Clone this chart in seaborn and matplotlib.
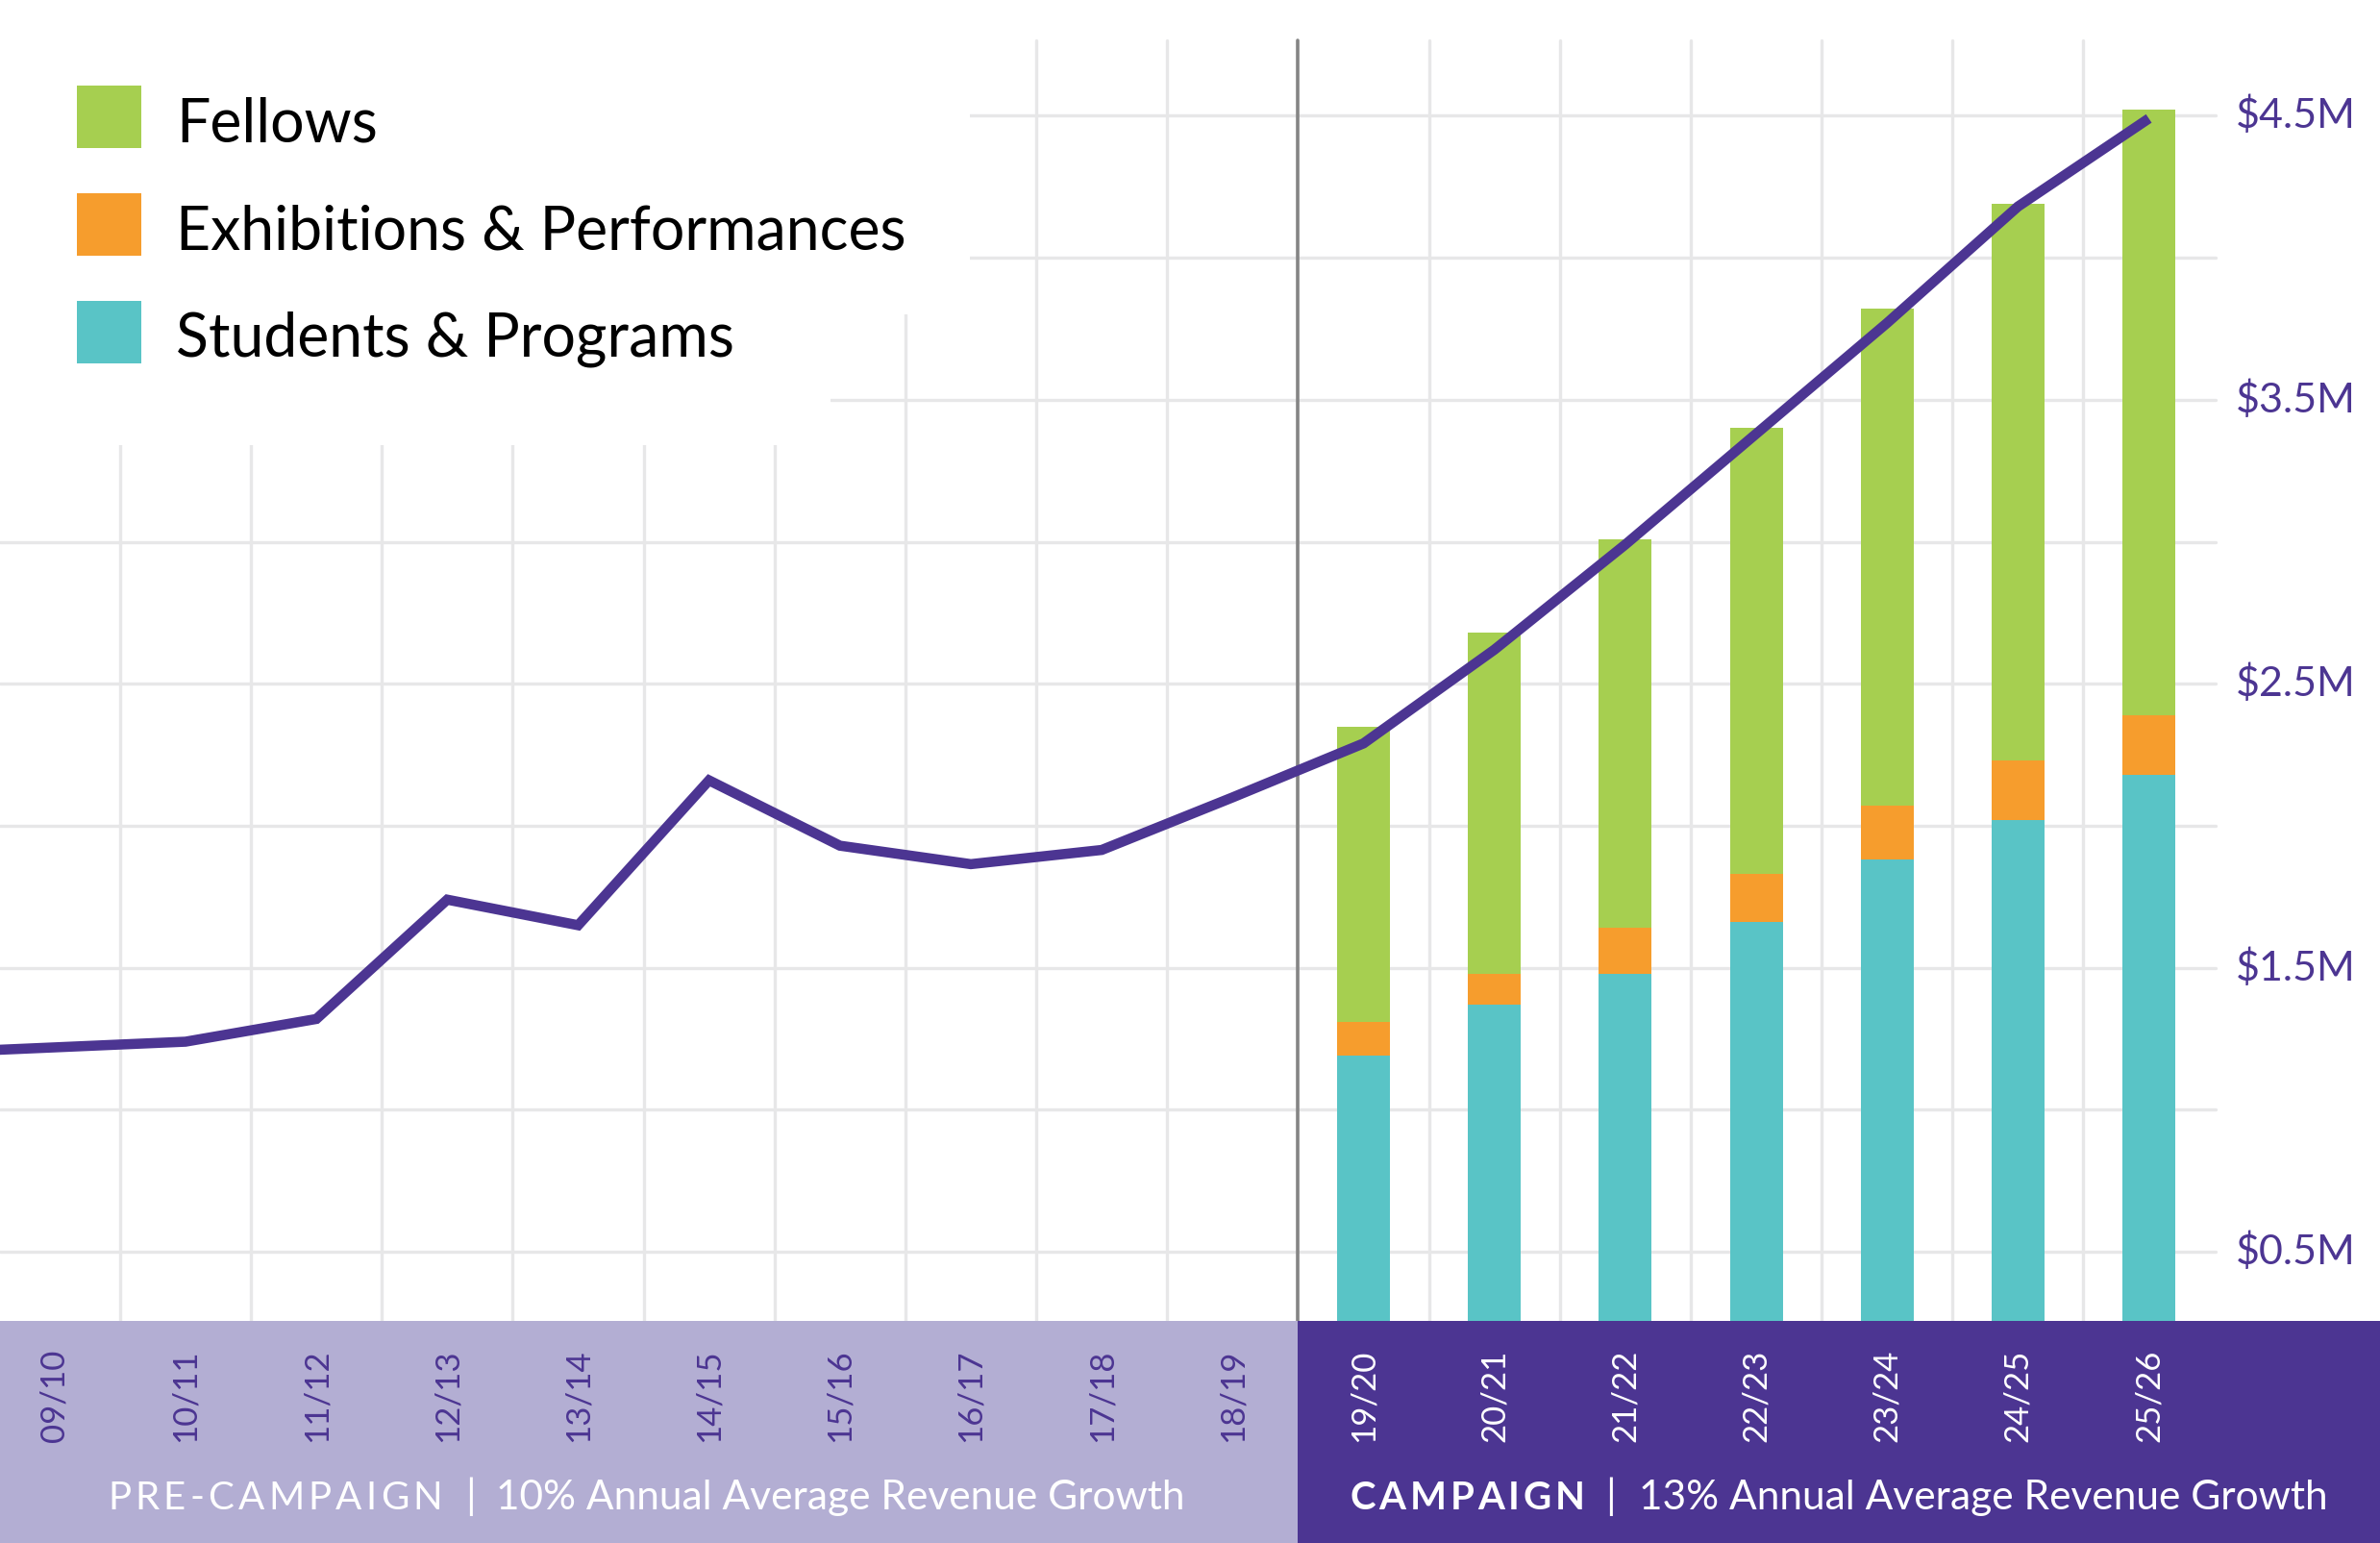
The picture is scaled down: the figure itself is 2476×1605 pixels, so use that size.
import numpy as np
import matplotlib
matplotlib.use('Agg')
import matplotlib.pyplot as plt
from matplotlib.patches import Rectangle
import seaborn as sns

sns.set_style('white')
plt.rcParams['font.family'] = ['Lato', 'DejaVu Sans']

# ── data ──────────────────────────────────────────────────────────────
years = ['09/10', '10/11', '11/12', '12/13', '13/14', '14/15', '15/16', '16/17',
         '17/18', '18/19', '19/20', '20/21', '21/22', '22/23', '23/24', '24/25', '25/26']

# total revenue line ($M); the line enters from an off-chart 08/09 point
line_years = ['08/09'] + years
line_vals = [1.20, 1.22, 1.24, 1.32, 1.74, 1.65, 2.16, 1.93, 1.865, 1.915,
             2.10, 2.29, 2.62, 2.99, 3.38, 3.77, 4.18, 4.49]

# stacked campaign bars ($M), 19/20 .. 25/26
students = [1.19, 1.37, 1.48, 1.66, 1.88, 2.02, 2.18]
exhibitions = [0.12, 0.11, 0.16, 0.17, 0.19, 0.21, 0.21]
fellows = [1.04, 1.20, 1.37, 1.57, 1.75, 1.96, 2.13]

y_ticks = [0.5, 1.5, 2.5, 3.5, 4.5]
y_labels = ['$0.5M', '$1.5M', '$2.5M', '$3.5M', '$4.5M']

legend_labels = ['Fellows', 'Exhibitions & Performances', 'Students & Programs']

GREEN, ORANGE, TEAL = '#a6cf50', '#f69d2d', '#59c4c6'
PURPLE, LILAC = '#4c3592', '#b3aed3'
GRID = '#e7e7e8'

# ── layout ────────────────────────────────────────────────────────────
W, H = 2476, 1606
BAND = 1375                      # px from top where the bottom band starts
XLIM = (-0.417, 17.766)
YLIM = (0.257, 4.9105)

fig = plt.figure(figsize=(W / 100, H / 100), dpi=100)
ax = fig.add_axes([0, (H - BAND) / H, 1, BAND / H])
bx = fig.add_axes([0, 0, 1, (H - BAND) / H])
renderer = fig.canvas.get_renderer()

pos = np.arange(len(years))
bar_pos = pos[10:]
base2 = np.add(students, exhibitions)
total = base2 + np.array(fellows)

# grid
for v in np.arange(0.5, 4.6, 0.5):
    ax.axhline(v, xmin=0, xmax=2305 / W, color=GRID, lw=2.4, zorder=0.5)
for x in np.arange(0.5, 16, 1.0):
    if x == 9.5:
        continue
    ax.axvline(x, ymin=0, ymax=1 - 43 / BAND, color=GRID, lw=2.4, zorder=0.5)
ax.axvline(9.5, ymin=0, ymax=1 - 43 / BAND, color='#858585', lw=2.6, zorder=0.6)

# white area behind the legend
ax.add_patch(Rectangle((XLIM[0], 3.80), 6.99 - XLIM[0], YLIM[1] - 3.80,
                       color='white', lw=0, zorder=0.8))
ax.add_patch(Rectangle((XLIM[0], 3.34), 5.93 - XLIM[0], YLIM[1] - 3.34,
                       color='white', lw=0, zorder=0.8))

# stacked bars
kw = dict(native_scale=True, width=0.404, saturation=1, linewidth=0,
          errorbar=None, ax=ax, zorder=2)
sns.barplot(x=bar_pos, y=total, color=GREEN, **kw)
sns.barplot(x=bar_pos, y=base2, color=ORANGE, **kw)
sns.barplot(x=bar_pos, y=students, color=TEAL, **kw)

# revenue line
sns.lineplot(x=np.arange(len(line_years)) - 1, y=line_vals, ax=ax, color=PURPLE,
             linewidth=7.6, zorder=4, solid_capstyle='butt', solid_joinstyle='miter')

# right-hand value labels
for v, lab in zip(y_ticks, y_labels):
    ax.text(16.66, v - 0.041, lab, ha='left', va='baseline', fontsize=31, color=PURPLE)

ax.set_xlim(*XLIM)
ax.set_ylim(*YLIM)
ax.set_axis_off()


# letter-spaced text spanning x0..x1 (pixels) in the band
def tracked(axis, s, x0, x1, y, **kw):
    widths = []
    for ch in s:
        t = axis.text(0, 0, ch, transform=axis.transAxes, **kw)
        widths.append(t.get_window_extent(renderer).width)
        t.remove()
    gap = (x1 - x0 - sum(widths)) / (len(s) - 1)
    x = x0
    for ch, w in zip(s, widths):
        axis.text(x / W, y, ch, transform=axis.transAxes, ha='left', va='baseline', **kw)
        x += w + gap


# ── bottom band ───────────────────────────────────────────────────────
bx.set_xlim(*XLIM)
bx.set_ylim(0, 1)
bx.axvspan(XLIM[0], 9.5, color=LILAC, lw=0)
bx.axvspan(9.5, XLIM[1], color=PURPLE, lw=0)
for i, lab in enumerate(years):
    bx.text(i, 0.667, lab, rotation=90, ha='center', va='center', fontsize=25,
            color=PURPLE if i < 10 else 'white')

by = 0.156
tracked(bx, 'PRE-CAMPAIGN', 112, 460, by, fontsize=29, color='white')
bx.text(489 / W, by, '|', transform=bx.transAxes, fontsize=31,
        color='white', va='baseline', ha='center')
bx.text(516 / W, by, '10% Annual Average Revenue Growth', transform=bx.transAxes,
        fontsize=30.5, color='white', va='baseline', ha='left')
tracked(bx, 'CAMPAIGN', 1404, 1649, by, fontsize=29, color='white', fontweight='bold')
bx.text(1675 / W, by, '|', transform=bx.transAxes, fontsize=31,
        color='white', va='baseline', ha='center')
bx.text(1705 / W, by, '13% Annual Average Revenue Growth', transform=bx.transAxes,
        fontsize=30.5, color='white', va='baseline', ha='left')
bx.set_axis_off()

# ── legend ────────────────────────────────────────────────────────────
for k, (lab, col) in enumerate(zip(legend_labels, [GREEN, ORANGE, TEAL])):
    top = 90 + 112 * k
    fig.add_artist(Rectangle((80 / W, 1 - (top + 65) / H), 67 / W, 65 / H,
                             transform=fig.transFigure, color=col, lw=0))
    fig.text(183 / W, 1 - (top + 57) / H, lab, fontsize=45, color='black',
             va='baseline', ha='left')

fig.savefig('out.png', dpi=100)
